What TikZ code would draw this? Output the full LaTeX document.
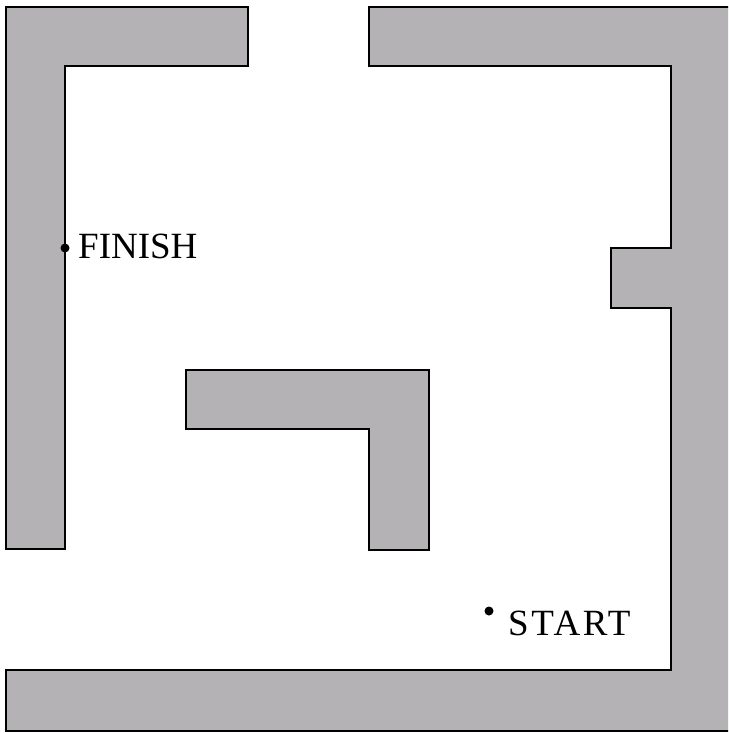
\documentclass[tikz,border=0pt]{standalone}
\usepackage{fontspec}
\setmainfont{Liberation Serif}
\definecolor{wallgray}{RGB}{180,178,181}
\begin{document}
\begin{tikzpicture}[x=1pt,y=-1pt,
  wall/.style={fill=wallgray,draw=black,line width=1.6pt,line join=miter},
  label/.style={inner sep=0pt,anchor=base west,font=\fontsize{37}{40}\selectfont},
  dotmark/.style={circle,fill=black,inner sep=0pt,minimum size=9pt}]
\useasboundingbox (0,0) rectangle (728,733);
\clip (0,0) rectangle (728,733);
% left wall
\draw[wall] (6,7) -- (248,7) -- (248,66) -- (65,66) -- (65,549) -- (6,549) -- cycle;
% right and bottom wall
\draw[wall] (369,7) -- (740,7) -- (740,731) -- (6,731) -- (6,670) -- (671,670)
  -- (671,308) -- (611,308) -- (611,248) -- (671,248) -- (671,66) -- (369,66) -- cycle;
% inner L
\draw[wall] (186,370) -- (429,370) -- (429,550) -- (369,550) -- (369,429) -- (186,429) -- cycle;
% finish
\node[dotmark] (fdot) at (65,248) {};
\node[label] (finish) at (78,258) {FINISH};
% start
\node[dotmark] (sdot) at (489,611) {};
\node[label] (start) at (508,635) {\addfontfeature{LetterSpace=7}START};
\end{tikzpicture}
\end{document}
